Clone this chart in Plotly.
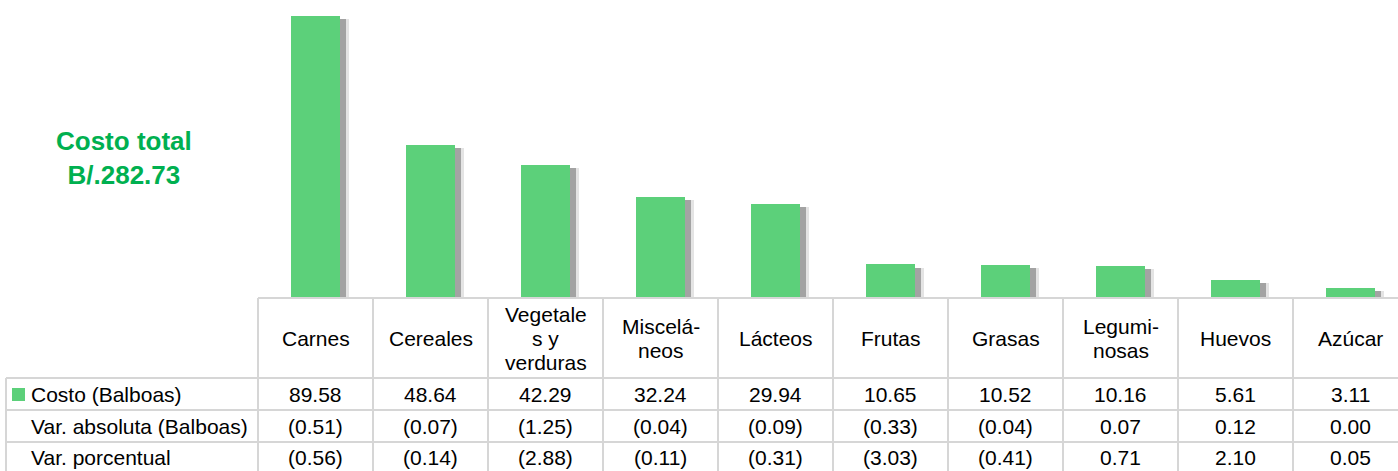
import plotly.graph_objects as go

# data
categorias = ["Carnes", "Cereales", "Vegetales y verduras", "Misceláneos", "Lácteos",
              "Frutas", "Grasas", "Leguminosas", "Huevos", "Azúcar"]
encabezados = ["Carnes", "Cereales", "Vegetale<br>s y<br>verduras", "Miscelá-<br>neos", "Lácteos",
               "Frutas", "Grasas", "Legumi-<br>nosas", "Huevos", "Azúcar"]
costo = [89.58, 48.64, 42.29, 32.24, 29.94, 10.65, 10.52, 10.16, 5.61, 3.11]
var_absoluta = ["(0.51)", "(0.07)", "(1.25)", "(0.04)", "(0.09)", "(0.33)", "(0.04)", "0.07", "0.12", "0.00"]
var_porcentual = ["(0.56)", "(0.14)", "(2.88)", "(0.11)", "(0.31)", "(3.03)", "(0.41)", "0.71", "2.10", "0.05"]
filas = ["Costo (Balboas)", "Var. absoluta (Balboas)", "Var. porcentual"]
costo_total = "Costo total<br>B/.282.73"

W, H = 1398, 471
GREEN = "#5cd07a"
TITLE_GREEN = "#00b050"
GRID = "#d6d6d6"
FONT = "Liberation Sans, Arial, sans-serif"

# layout in pixels
plot_left, plot_bottom = 258, 298
col_w = 115
row_edges = [298, 378, 410, 442, 471]
x0_range = -0.5
x1_range = x0_range + (W - plot_left) / col_w
y_max = 94.7
bar_w = 0.42


def px(x):
    return x / W


def py(y):
    return 1 - y / H


def cat_px(i):
    # category index -> pixel x
    return plot_left + (i - x0_range) * col_w


fig = go.Figure()

# bar shadows
fig.add_trace(go.Bar(x=list(range(len(costo))), y=[v - 1.0 for v in costo],
                     width=bar_w, offset=-bar_w / 2 + 9 / col_w,
                     marker=dict(color="#e4e4e4", line_width=0), hoverinfo="skip"))
fig.add_trace(go.Bar(x=list(range(len(costo))), y=[v - 1.0 for v in costo],
                     width=bar_w, offset=-bar_w / 2 + 6 / col_w,
                     marker=dict(color="#a3a3a3", line_width=0), hoverinfo="skip"))
# main bars
fig.add_trace(go.Bar(x=list(range(len(costo))), y=costo, width=bar_w,
                     offset=-bar_w / 2, name="Costo (Balboas)",
                     customdata=categorias,
                     hovertemplate="%{customdata}: %{y:.2f}<extra></extra>",
                     marker=dict(color=GREEN, line_width=0)))

shapes = []
ann = []


def hline(y, xa, xb):
    shapes.append(dict(type="line", xref="paper", yref="paper", x0=px(xa), x1=px(xb),
                       y0=py(y), y1=py(y), line=dict(color=GRID, width=2)))


def vline(x, ya, yb):
    shapes.append(dict(type="line", xref="paper", yref="paper", x0=px(x), x1=px(x),
                       y0=py(ya), y1=py(yb), line=dict(color=GRID, width=2)))


# table grid
hline(row_edges[0], plot_left, W + 20)
for y in row_edges[1:4]:
    hline(y, 6, W + 20)
vline(6, row_edges[1], H + 5)
for i in range(len(categorias) + 1):
    vline(cat_px(i - 0.5), row_edges[0], H + 5)

# legend key
shapes.append(dict(type="rect", xref="paper", yref="paper", x0=px(12), x1=px(25),
                   y0=py(401), y1=py(388), fillcolor=GREEN, line_width=0))

tf = dict(family=FONT, size=21, color="#000000")

# header text, one annotation per line
line_gap = 24
hdr_mid = (row_edges[0] + row_edges[1]) / 2
for i, h in enumerate(encabezados):
    partes = h.split("<br>")
    for k, p in enumerate(partes):
        yy = hdr_mid + (k - (len(partes) - 1) / 2) * line_gap
        ann.append(dict(x=px(cat_px(i)), y=py(yy), xref="paper", yref="paper", text=p,
                        showarrow=False, xanchor="center", yanchor="middle", font=tf))

# data rows
valores = [[f"{v:.2f}" for v in costo], var_absoluta, var_porcentual]
for r, fila in enumerate(filas):
    yy = (row_edges[r + 1] + row_edges[r + 2]) / 2
    if r == 2:
        yy = 457
    ann.append(dict(x=px(29), y=py(yy), xref="paper", yref="paper", text=fila,
                    showarrow=False, xanchor="left", yanchor="middle", font=tf))
    for i, v in enumerate(valores[r]):
        ann.append(dict(x=px(cat_px(i)), y=py(yy), xref="paper", yref="paper", text=v,
                        showarrow=False, xanchor="center", yanchor="middle", font=tf))

# total cost label
ann.append(dict(x=px(124), y=py(158), xref="paper", yref="paper", text=f"<b>{costo_total}</b>",
                showarrow=False, xanchor="center", yanchor="middle",
                font=dict(family=FONT, size=26, color=TITLE_GREEN)))

fig.update_layout(
    width=W, height=H, autosize=False,
    margin=dict(l=0, r=0, t=0, b=0),
    paper_bgcolor="white", plot_bgcolor="white",
    barmode="overlay", bargap=0, showlegend=False,
    xaxis=dict(domain=[px(plot_left), 1], range=[x0_range, x1_range], visible=False),
    yaxis=dict(domain=[py(plot_bottom), 1], range=[0, y_max], visible=False),
    shapes=shapes, annotations=ann,
)

# drop the default page margin so the figure fills the window exactly
fig.write_html("out.html", config={"displayModeBar": False},
               post_script="document.body.style.margin='0';document.body.style.overflow='hidden';")
